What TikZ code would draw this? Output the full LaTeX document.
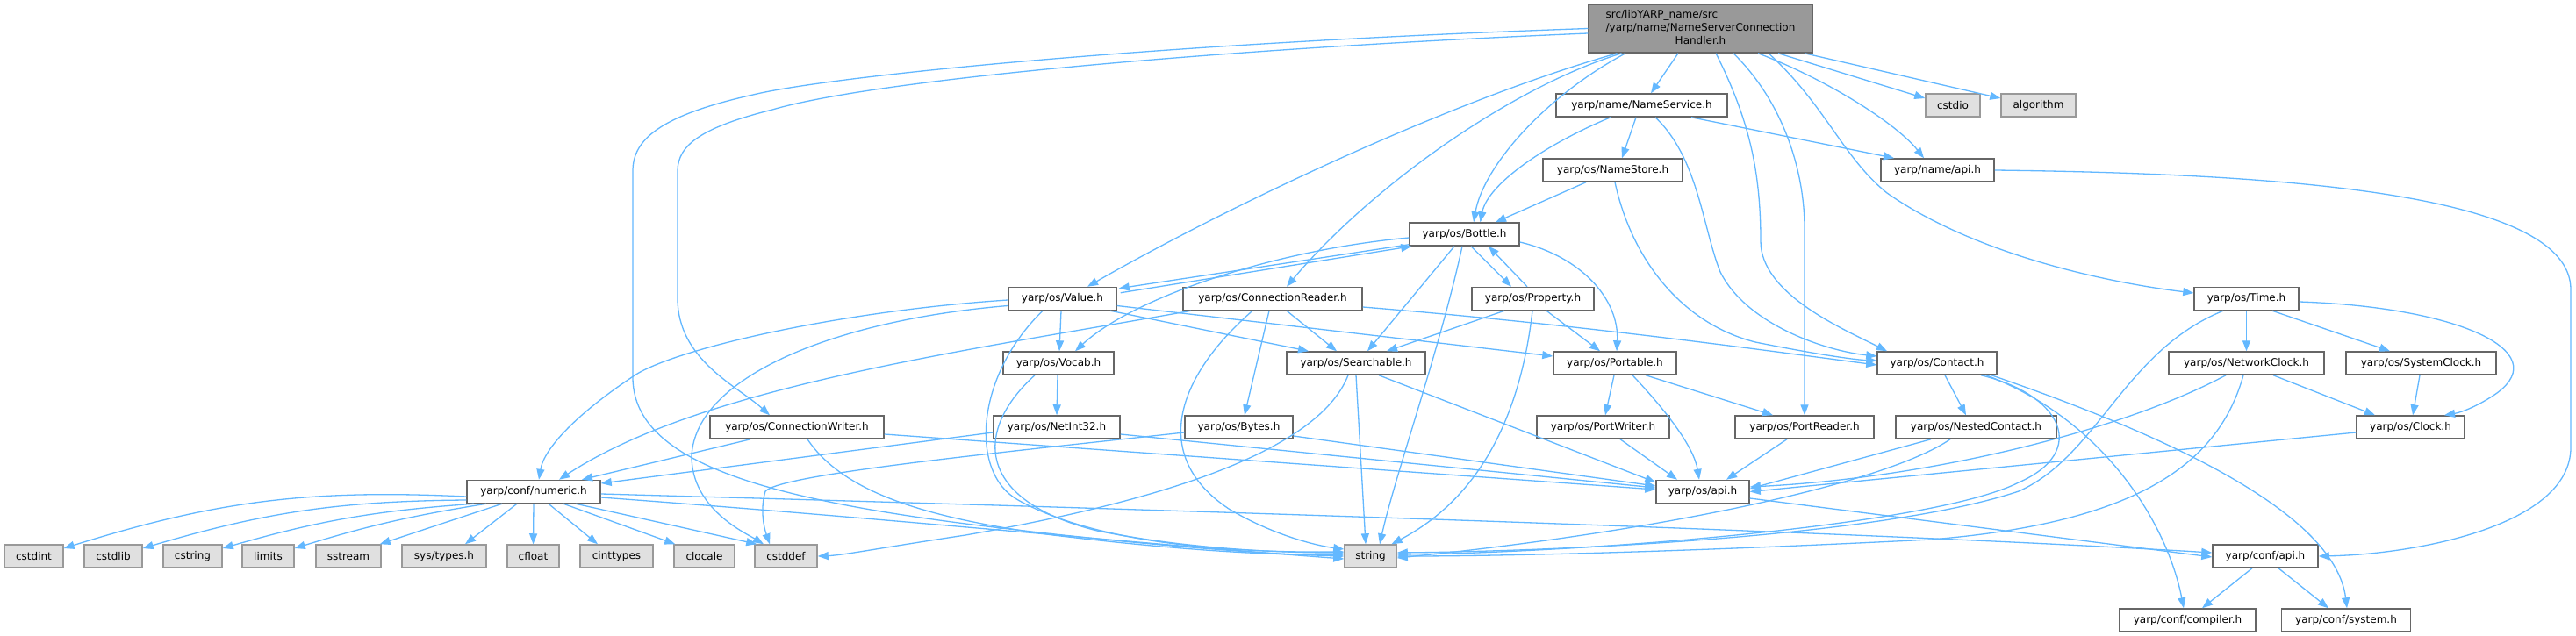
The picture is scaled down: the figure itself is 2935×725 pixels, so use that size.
\documentclass[tikz,border=0pt]{standalone}
\usepackage{fontspec}
\newfontfamily\dvsans{DejaVu Sans}
\usetikzlibrary{arrows.meta}
\definecolor{edgeblue}{HTML}{63B8FF}
\definecolor{bordergray}{HTML}{666666}
\definecolor{leafborder}{HTML}{999999}
\definecolor{leaffill}{HTML}{E0E0E0}
\definecolor{rootfill}{HTML}{999999}
\tikzset{
 nbox/.style={draw=bordergray, fill=white, line width=1.5pt, minimum height=26pt, inner sep=0pt, font=\dvsans\fontsize{12}{15}\selectfont},
 gbox/.style={nbox, draw=leafborder, fill=leaffill},
 rbox/.style={nbox, fill=rootfill, minimum height=55pt},
 conn/.style={draw=edgeblue, line width=1.3pt, -{Triangle[length=12pt,width=9pt]}},
}
\begin{document}
\begin{tikzpicture}[x=1pt,y=-1pt]
\useasboundingbox (0,0) rectangle (2935,725);
\fill[white] (0,0) rectangle (2935,725);
% nodes
\node[rbox, minimum width=255pt] (root) at (1937.5,32.5) {\begin{tabular}{@{}l@{}}src/libYARP\_name/src\\/yarp/name/NameServerConnection\\\multicolumn{1}{@{}c@{}}{Handler.h}\end{tabular}};
\node[nbox, minimum width=195pt] (ns) at (1870.5,120) {yarp/name/NameService.h};
\node[gbox, minimum width=62pt] (cstdio) at (2225,120) {cstdio};
\node[gbox, minimum width=85pt] (algo) at (2322.5,120) {algorithm};
\node[nbox, minimum width=159pt] (nst) at (1837.5,194) {yarp/os/NameStore.h};
\node[nbox, minimum width=129pt] (napi) at (2207.5,194) {yarp/name/api.h};
\node[nbox, minimum width=125pt] (bottle) at (1668.5,267) {yarp/os/Bottle.h};
\node[nbox, minimum width=123pt] (value) at (1210.5,340.5) {yarp/os/Value.h};
\node[nbox, minimum width=204pt] (crd) at (1450,340.5) {yarp/os/ConnectionReader.h};
\node[nbox, minimum width=139pt] (prop) at (1746.5,340.5) {yarp/os/Property.h};
\node[nbox, minimum width=119pt] (time) at (2559.5,340.5) {yarp/os/Time.h};
\node[nbox, minimum width=126pt] (vocab) at (1206,414) {yarp/os/Vocab.h};
\node[nbox, minimum width=158pt] (search) at (1545,414) {yarp/os/Searchable.h};
\node[nbox, minimum width=140pt] (portable) at (1840,414) {yarp/os/Portable.h};
\node[nbox, minimum width=136pt] (contact) at (2207,414) {yarp/os/Contact.h};
\node[nbox, minimum width=177pt] (nclock) at (2559.5,414) {yarp/os/NetworkClock.h};
\node[nbox, minimum width=171pt] (sclock) at (2758.5,414) {yarp/os/SystemClock.h};
\node[nbox, minimum width=198pt] (cwr) at (908,487) {yarp/os/ConnectionWriter.h};
\node[nbox, minimum width=144pt] (netint) at (1204,487) {yarp/os/NetInt32.h};
\node[nbox, minimum width=123pt] (bytes) at (1411.5,487) {yarp/os/Bytes.h};
\node[nbox, minimum width=151pt] (pwriter) at (1826.5,487) {yarp/os/PortWriter.h};
\node[nbox, minimum width=158pt] (preader) at (2056,487) {yarp/os/PortReader.h};
\node[nbox, minimum width=183pt] (nested) at (2251.5,487) {yarp/os/NestedContact.h};
\node[nbox, minimum width=123pt] (clock) at (2746.5,487) {yarp/os/Clock.h};
\node[nbox, minimum width=152pt] (numeric) at (608,560.5) {yarp/conf/numeric.h};
\node[nbox, minimum width=106pt] (osapi) at (1940,560.5) {yarp/os/api.h};
\node[gbox, minimum width=67pt] (cstdint) at (38.5,634) {cstdint};
\node[gbox, minimum width=66pt] (cstdlib) at (129,634) {cstdlib};
\node[gbox, minimum width=67pt] (cstring) at (219.5,634) {cstring};
\node[gbox, minimum width=59pt] (limits) at (305.5,634) {limits};
\node[gbox, minimum width=74pt] (sstream) at (397,634) {sstream};
\node[gbox, minimum width=96pt] (systypes) at (506,634) {sys/types.h};
\node[gbox, minimum width=59pt] (cfloat) at (607.5,634) {cfloat};
\node[gbox, minimum width=83pt] (cinttypes) at (702.5,634) {cinttypes};
\node[gbox, minimum width=69pt] (clocale) at (802.5,634) {clocale};
\node[gbox, minimum width=71pt] (cstddef) at (895.5,634) {cstddef};
\node[gbox, minimum width=59pt] (string) at (1561.5,634) {string};
\node[nbox, minimum width=120pt] (confapi) at (2581,634) {yarp/conf/api.h};
\node[nbox, minimum width=155pt] (compiler) at (2492.5,707) {yarp/conf/compiler.h};
\node[nbox, minimum width=147pt] (system) at (2673,707) {yarp/conf/system.h};
% root edges
\draw[conn] ([xshift=-25.5pt]root.south) -- ([xshift=10.5pt]ns.north);
\draw[conn] ([xshift=88.5pt]root.south) -- ([yshift=8pt]cstdio.west);
\draw[conn] ([xshift=118.5pt]root.south) -- ([yshift=8pt]algo.west);
\draw[conn] ([xshift=65.5pt]root.south) .. controls (2080,90) and (2160,140) .. ([xshift=-15.5pt]napi.north);
\draw[conn] ([xshift=-85.5pt]root.south) .. controls (1760,110) and (1690,190) .. ([xshift=10.5pt]bottle.north);
\draw[conn] ([xshift=-95pt]root.south) .. controls (1650,115) and (1390,240) .. ([xshift=28.5pt]value.north);
\draw[conn] ([xshift=-90pt]root.south) .. controls (1720,100) and (1560,215) .. ([xshift=16pt]crd.north);
\draw[conn] ([yshift=-5.5pt]root.west) .. controls (1400,55) and (1000,90) .. (880,125) .. controls (800,145) and (772,165) .. (772,195) -- (772,340) .. controls (772,410) and (840,440) .. ([xshift=-31pt]cwr.north);
\draw[conn] (root.west) .. controls (1300,50) and (940,88) .. (858,108) .. controls (750,132) and (721,160) .. (721,195) -- (721,430) .. controls (721,520) and (850,565) .. (1100,597) .. controls (1300,622) and (1450,632) .. (string.west);
\draw[conn] ([xshift=17.5pt]root.south) .. controls (1995,140) and (2006,200) .. (2006,275) .. controls (2006,335) and (2100,375) .. ([xshift=-57pt]contact.north);
\draw[conn] ([xshift=37.5pt]root.south) .. controls (2035,120) and (2056,200) .. (2056,260) -- (preader.north);
\draw[conn] ([xshift=77.5pt]root.south) .. controls (2080,120) and (2100,180) .. (2150,220) .. controls (2250,290) and (2400,322) .. ([yshift=6.5pt]time.west);
% NameService / NameStore / name api
\draw[conn] ([xshift=-35.5pt]ns.south) .. controls (1760,165) and (1695,210) .. ([xshift=18pt]bottle.north);
\draw[conn] ([xshift=-6.5pt]ns.south) -- ([xshift=10.5pt]nst.north);
\draw[conn] ([xshift=15.5pt]ns.south) .. controls (1935,180) and (1940,260) .. (1960,310) .. controls (1990,370) and (2080,400) .. ([yshift=8pt]contact.west);
\draw[conn] ([xshift=56.5pt]ns.south) -- ([xshift=-49.5pt]napi.north);
\draw[conn] ([xshift=-30.5pt]nst.south) -- ([xshift=35.5pt]bottle.north);
\draw[conn] ([xshift=2.5pt]nst.south) .. controls (1860,300) and (1920,370) .. (2000,390) .. controls (2060,402) and (2110,410) .. ([yshift=3pt]contact.west);
\draw[conn] (napi.east) .. controls (2600,198) and (2929,220) .. (2929,330) -- (2929,510) .. controls (2929,600) and (2750,632) .. (confapi.east);
% Bottle
\draw[conn] ([yshift=2pt]bottle.south west) -- ([xshift=2pt,yshift=-2pt]value.north east);
\draw[conn] ([xshift=4pt,yshift=-7pt]value.north east) -- ([xshift=3pt]bottle.south west);
\draw[conn] ([yshift=-4pt]bottle.west) .. controls (1450,285) and (1290,340) .. ([xshift=19pt]vocab.north);
\draw[conn] ([xshift=-11.5pt]bottle.south) -- ([xshift=13pt]search.north);
\draw[conn] ([xshift=-2.5pt]bottle.south) .. controls (1640,400) and (1590,540) .. ([xshift=10.5pt]string.north);
\draw[conn] ([xshift=7.5pt]bottle.south) -- ([xshift=-24.5pt]prop.north);
\draw[conn] ([xshift=-6.5pt]prop.north) -- ([xshift=27.5pt]bottle.south);
\draw[conn] ([yshift=-9pt]bottle.east) .. controls (1800,292) and (1845,340) .. ([xshift=2pt]portable.north);
% Value
\draw[conn] ([xshift=-1.5pt]value.south) -- ([xshift=1pt]vocab.north);
\draw[conn] ([xshift=54.5pt]value.south) -- ([xshift=-54pt]search.north);
\draw[conn] ([yshift=-8pt]value.east) -- ([yshift=8pt]portable.west);
\draw[conn] ([yshift=-1.5pt]value.west) .. controls (950,355) and (760,400) .. (720,430) .. controls (660,470) and (620,510) .. ([xshift=6pt]numeric.north);
\draw[conn] ([yshift=-8pt]value.west) .. controls (950,365) and (792,430) .. (788,520) .. controls (788,580) and (850,608) .. ([xshift=-25.5pt]cstddef.north);
\draw[conn] ([xshift=-22.5pt]value.south) .. controls (1110,430) and (1105,540) .. (1160,570) .. controls (1250,620) and (1400,630) .. ([yshift=5pt]string.west);
% ConnectionReader
\draw[conn] ([xshift=-93pt]crd.south) .. controls (1100,400) and (800,440) .. ([xshift=29pt]numeric.north);
\draw[conn] ([xshift=-23pt]crd.south) .. controls (1340,430) and (1310,520) .. (1400,580) .. controls (1450,610) and (1500,622) .. ([yshift=8pt]string.west);
\draw[conn] ([xshift=-4pt]crd.south) -- ([xshift=6.5pt]bytes.north);
\draw[conn] ([xshift=16pt]crd.south) -- ([xshift=-22pt]search.north);
\draw[conn] ([yshift=-9.5pt]crd.east) .. controls (1800,370) and (2000,398) .. ([yshift=-2pt]contact.west);
% Property
\draw[conn] ([xshift=-32.5pt]prop.south) -- ([xshift=35pt]search.north);
\draw[conn] ([xshift=15.5pt]prop.south) -- ([xshift=-17pt]portable.north);
\draw[conn] ([xshift=-0.5pt]prop.south) .. controls (1735,450) and (1700,560) .. ([xshift=24pt]string.north);
% Searchable
\draw[conn] (search.south) -- ([xshift=-5.5pt]string.north);
\draw[conn] ([xshift=-9pt]search.south) .. controls (1500,520) and (1300,575) .. (1100,610) .. controls (1000,625) and (960,633) .. (cstddef.east);
\draw[conn] ([xshift=26pt]search.south) -- ([yshift=-3pt]osapi.north west);
% Portable and writers/readers
\draw[conn] ([xshift=-1pt]portable.south) -- ([xshift=2.5pt]pwriter.north);
\draw[conn] ([xshift=35pt]portable.south) -- ([xshift=-36pt]preader.north);
\draw[conn] ([xshift=20pt]portable.south) .. controls (1900,470) and (1930,510) .. ([xshift=-4pt]osapi.north);
\draw[conn] ([xshift=19.5pt]pwriter.south) -- ([xshift=-29pt]osapi.north);
\draw[conn] ([xshift=-20pt]preader.south) -- ([xshift=27pt]osapi.north);
% Bytes, NetInt32, ConnectionWriter
\draw[conn] ([yshift=-10pt]bytes.east) -- ([yshift=6.5pt]osapi.west);
\draw[conn] ([yshift=-6pt]bytes.west) .. controls (1150,515) and (890,540) .. (872,560) .. controls (866,580) and (870,600) .. ([xshift=-18.5pt]cstddef.north);
\draw[conn] ([yshift=-6pt]netint.west) -- ([yshift=9.5pt]numeric.east);
\draw[conn] ([yshift=-8pt]netint.east) -- ([yshift=4.5pt]osapi.west);
\draw[conn] ([xshift=-53pt]cwr.south) -- ([xshift=55pt]numeric.north);
\draw[conn] ([yshift=-8pt]cwr.east) -- ([yshift=2.5pt]osapi.west);
\draw[conn] ([xshift=12pt]cwr.south) .. controls (960,560) and (1050,590) .. (1200,610) .. controls (1350,628) and (1450,633) .. ([yshift=2pt]string.west);
% Vocab
\draw[conn] ([xshift=-1pt]vocab.south) -- (netint.north);
\draw[conn] ([xshift=-27pt]vocab.south) .. controls (1110,490) and (1110,570) .. (1250,605) .. controls (1350,625) and (1450,630) .. ([yshift=4pt]string.west);
% numeric
\draw[conn] ([yshift=-5.5pt]numeric.west) to[bend right=10] ([yshift=9pt]cstdint.east);
\draw[conn] ([yshift=-9.5pt]numeric.west) to[bend right=8] ([yshift=9pt]cstdlib.east);
\draw[conn] ([xshift=-68pt]numeric.south) to[bend right=6] ([yshift=9pt]cstring.east);
\draw[conn] ([xshift=-54pt]numeric.south) to[bend right=4] ([yshift=9pt]limits.east);
\draw[conn] ([xshift=-36pt]numeric.south) -- ([xshift=-2pt]sstream.north east);
\draw[conn] ([xshift=-19pt]numeric.south) -- ([xshift=24pt]systypes.north);
\draw[conn] (numeric.south) -- (cfloat.north);
\draw[conn] ([xshift=17pt]numeric.south) -- ([xshift=-21.5pt]cinttypes.north);
\draw[conn] ([xshift=34pt]numeric.south) -- ([xshift=2pt]clocale.north west);
\draw[conn] ([xshift=48pt]numeric.south) -- ([xshift=3pt]cstddef.north west);
\draw[conn] ([yshift=-6.5pt]numeric.east) .. controls (1000,590) and (1300,620) .. ([yshift=-3pt]string.west);
\draw[conn] ([yshift=-2.5pt]numeric.east) .. controls (1300,580) and (2100,605) .. ([yshift=4pt]confapi.west);
\draw[conn] ([yshift=-7.5pt]osapi.east) -- ([yshift=-1pt]confapi.west);
% Time and clocks
\draw[conn] (time.south) -- (nclock.north);
\draw[conn] ([xshift=29.5pt]time.south) -- ([xshift=-35.5pt]sclock.north);
\draw[conn] ([yshift=-3.5pt]time.east) .. controls (2800,350) and (2910,400) .. (2845,448) .. controls (2825,462) and (2805,470) .. ([xshift=38.5pt]clock.north);
\draw[conn] ([xshift=-26.5pt]time.south) .. controls (2420,400) and (2390,520) .. (2300,560) .. controls (2150,610) and (1800,628) .. ([yshift=4pt]string.east);
\draw[conn] ([xshift=30.5pt]nclock.south) -- ([xshift=-40.5pt]clock.north);
\draw[conn] ([xshift=-23.5pt]nclock.south) .. controls (2420,490) and (2200,545) .. ([yshift=5.5pt]osapi.east);
\draw[conn] ([xshift=-3.5pt]nclock.south) .. controls (2530,520) and (2450,595) .. (2200,615) .. controls (1900,630) and (1700,634) .. (string.east);
\draw[conn] ([xshift=-1.5pt]sclock.south) -- ([xshift=2.5pt]clock.north);
\draw[conn] ([yshift=-6pt]clock.west) -- (osapi.east);
% Contact
\draw[conn] ([xshift=9pt]contact.south) -- ([xshift=-11.5pt]nested.north);
\draw[conn] ([xshift=50pt]contact.south) .. controls (2350,450) and (2380,515) .. (2300,550) .. controls (2200,600) and (1800,630) .. ([yshift=2pt]string.east);
\draw[conn] ([xshift=56pt]contact.south) .. controls (2400,480) and (2470,600) .. ([xshift=-4.5pt]compiler.north);
\draw[conn] ([xshift=62pt]contact.south) .. controls (2450,490) and (2660,580) .. ([xshift=1pt]system.north);
\draw[conn] ([xshift=-51.5pt]nested.south) -- ([yshift=3.5pt]osapi.east);
\draw[conn] ([xshift=-29.5pt]nested.south) .. controls (2150,550) and (1900,605) .. ([yshift=-2pt]string.east);
% conf api
\draw[conn] ([xshift=-15pt]confapi.south) -- ([xshift=16.5pt]compiler.north);
\draw[conn] ([xshift=15pt]confapi.south) -- ([xshift=-20pt]system.north);
\end{tikzpicture}
\end{document}
